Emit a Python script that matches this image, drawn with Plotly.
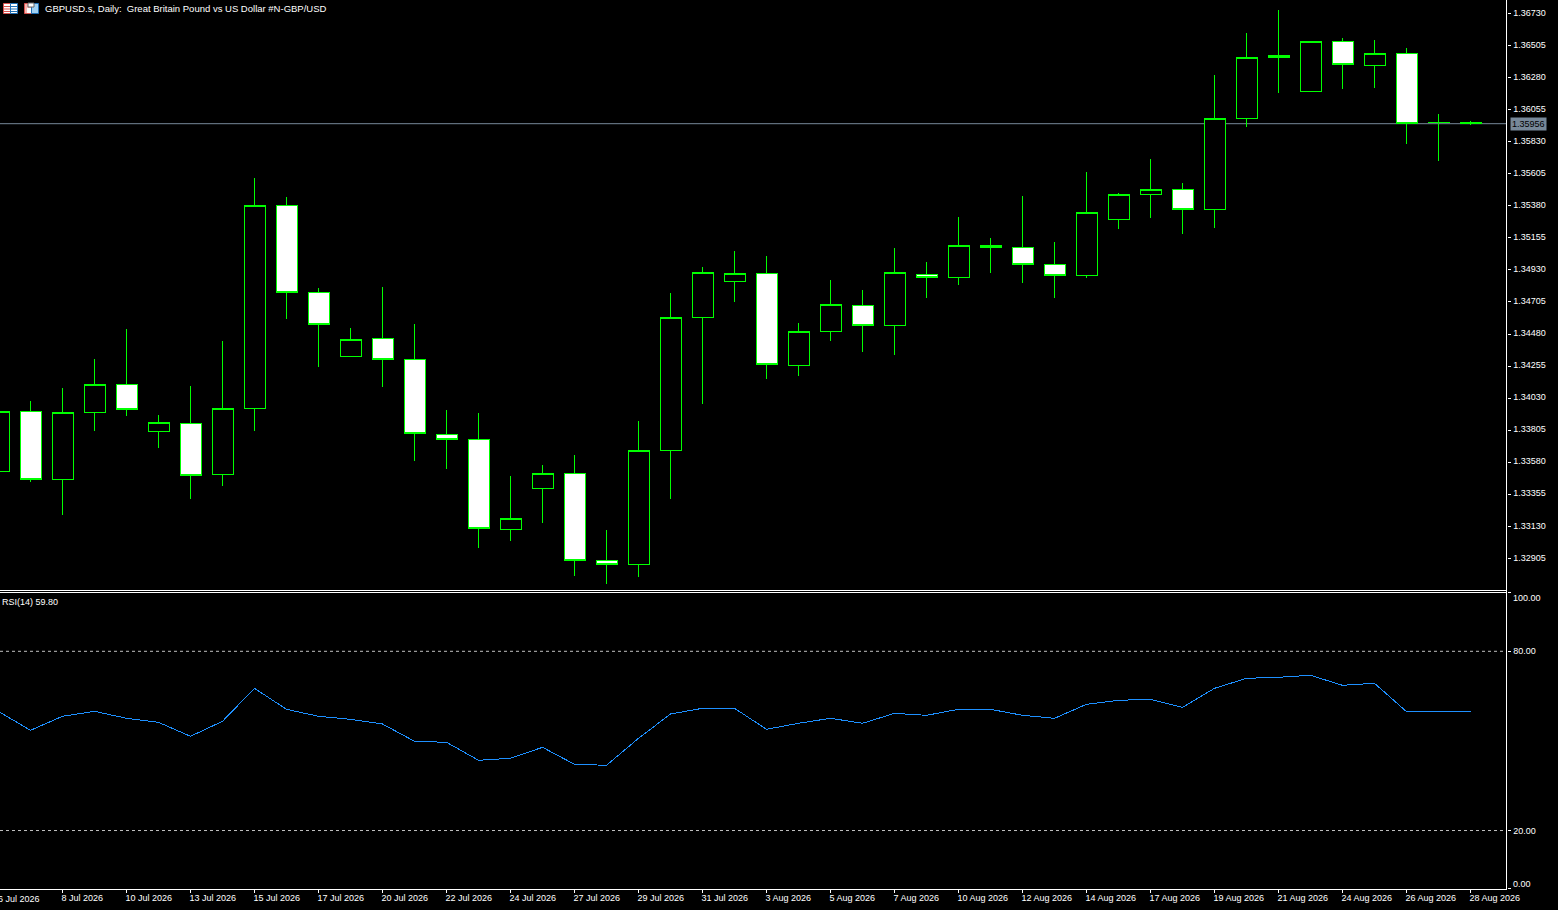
# -*- coding: utf-8 -*-
import plotly.graph_objects as go

#####
# Values
#####

# bar dates, one per candle, first one is cut by the left edge
bar_dates = ['6 Jul', '7 Jul', '8 Jul', '9 Jul', '10 Jul', '12 Jul', '13 Jul', '14 Jul', '15 Jul', '16 Jul',
             '17 Jul', '19 Jul', '20 Jul', '21 Jul', '22 Jul', '23 Jul', '24 Jul', '26 Jul', '27 Jul', '28 Jul',
             '29 Jul', '30 Jul', '31 Jul', '2 Aug', '3 Aug', '4 Aug', '5 Aug', '6 Aug', '7 Aug', '9 Aug',
             '10 Aug', '11 Aug', '12 Aug', '13 Aug', '14 Aug', '16 Aug', '17 Aug', '18 Aug', '19 Aug', '20 Aug',
             '21 Aug', '23 Aug', '24 Aug', '25 Aug', '26 Aug', '27 Aug', '28 Aug']

opens = [1.33514, 1.33938, 1.33461, 1.33931, 1.34127, 1.33797, 1.33854, 1.33496, 1.33959, 1.35383,
         1.34773, 1.34324, 1.34450, 1.34303, 1.33776, 1.33741, 1.33107, 1.33395, 1.33503, 1.32892,
         1.32861, 1.33664, 1.34595, 1.34847, 1.34906, 1.34258, 1.34496, 1.34682, 1.34540, 1.34899,
         1.34875, 1.35103, 1.35089, 1.34969, 1.34889, 1.35282, 1.35458, 1.35496, 1.35354, 1.35994,
         1.36419, 1.36183, 1.36534, 1.36366, 1.36450, 1.35965, 1.35966]
highs = [1.33982, 1.34010, 1.34101, 1.34305, 1.34515, 1.33912, 1.34115, 1.34431, 1.35575, 1.35442,
         1.34803, 1.34522, 1.34810, 1.34550, 1.33947, 1.33926, 1.33484, 1.33561, 1.33631, 1.33105,
         1.33870, 1.34768, 1.34950, 1.35063, 1.35028, 1.34557, 1.34859, 1.34789, 1.35084, 1.34985,
         1.35301, 1.35154, 1.35449, 1.35126, 1.35617, 1.35470, 1.35708, 1.35540, 1.36298, 1.36592,
         1.36754, 1.36534, 1.36557, 1.36543, 1.36487, 1.36024, 1.35975]
lows = [1.33470, 1.33442, 1.33212, 1.33800, 1.33905, 1.33680, 1.33322, 1.33414, 1.33800, 1.34585,
        1.34249, 1.34324, 1.34108, 1.33589, 1.33533, 1.32978, 1.33028, 1.33154, 1.32782, 1.32726,
        1.32775, 1.33322, 1.33989, 1.34705, 1.34164, 1.34185, 1.34431, 1.34354, 1.34333, 1.34733,
        1.34824, 1.34908, 1.34838, 1.34733, 1.34873, 1.35217, 1.35294, 1.35182, 1.35226, 1.35935,
        1.36174, 1.36183, 1.36202, 1.36209, 1.35816, 1.35696, 1.35949]
closes = [1.33938, 1.33461, 1.33931, 1.34127, 1.33952, 1.33861, 1.33489, 1.33959, 1.35383, 1.34773,
          1.34548, 1.34443, 1.34303, 1.33783, 1.33741, 1.33117, 1.33187, 1.33503, 1.32892, 1.32861,
          1.33664, 1.34597, 1.34913, 1.34906, 1.34265, 1.34499, 1.34689, 1.34541, 1.34913, 1.34875,
          1.35103, 1.35086, 1.34966, 1.34889, 1.35334, 1.35461, 1.35496, 1.35352, 1.35994, 1.36422,
          1.36436, 1.36534, 1.36373, 1.36450, 1.35959, 1.35966, 1.35956]

rsi_values = [59.85, 53.55, 58.24, 59.91, 57.57, 56.23, 51.54, 56.57, 67.61, 60.58,
              58.24, 57.23, 55.66, 49.87, 49.54, 43.51, 44.18, 47.86, 42.17, 41.84,
              50.87, 59.01, 60.92, 60.92, 53.89, 55.90, 57.57, 55.90, 59.24, 58.57,
              60.58, 60.58, 58.57, 57.57, 62.26, 63.60, 63.93, 61.25, 67.61, 70.96,
              71.30, 71.97, 68.62, 69.29, 59.80, 59.80, 59.80]

price_ticks = [1.36730, 1.36505, 1.36280, 1.36055, 1.35830, 1.35605, 1.35380, 1.35155, 1.34930,
               1.34705, 1.34480, 1.34255, 1.34030, 1.33805, 1.33580, 1.33355, 1.33130, 1.32905]
rsi_levels = [80, 20]
last_price = 1.35956

time_labels = ['8 Jul 2026', '10 Jul 2026', '13 Jul 2026', '15 Jul 2026', '17 Jul 2026', '20 Jul 2026',
               '22 Jul 2026', '24 Jul 2026', '27 Jul 2026', '29 Jul 2026', '31 Jul 2026', '3 Aug 2026',
               '5 Aug 2026', '7 Aug 2026', '10 Aug 2026', '12 Aug 2026', '14 Aug 2026', '17 Aug 2026',
               '19 Aug 2026', '21 Aug 2026', '24 Aug 2026', '26 Aug 2026', '28 Aug 2026']

title_text = 'GBPUSD.s, Daily:  Great Britain Pound vs US Dollar #N-GBP/USD'
rsi_text = 'RSI(14) 59.80'

#####
# Layout helpers
#####

W, H = 1558, 910
AXIS_X = 1506.5
FONT = 'Liberation Sans'
FONT_SIZE = 9
GREEN = '#00ff00'
WHITE = '#ffffff'


def px(x):
    return x / W


def py(y):
    return 1 - y / H


def rect(x0, y0, x1, y1, fill=None, line=None):
    return dict(type='rect', xref='paper', yref='paper', x0=px(x0), x1=px(x1), y0=py(y0), y1=py(y1),
                fillcolor=fill or 'rgba(0,0,0,0)', line=dict(color=line or 'rgba(0,0,0,0)', width=1 if line else 0),
                layer='above')


def hline(x0, x1, y, color=WHITE):
    return dict(type='line', xref='paper', yref='paper', x0=px(x0), x1=px(x1), y0=py(y), y1=py(y),
                line=dict(color=color, width=1), layer='above')


bars = list(range(len(bar_dates)))
time_ticks = [bar_dates.index(lab.rsplit(' ', 1)[0]) for lab in time_labels]

fig = go.Figure()

fig.add_trace(go.Candlestick(
    x=bars, open=opens, high=highs, low=lows, close=closes,
    xaxis='x', yaxis='y',
    increasing=dict(line=dict(color=GREEN, width=1), fillcolor='#000000'),
    decreasing=dict(line=dict(color=GREEN, width=1), fillcolor=WHITE),
    whiskerwidth=0,
    showlegend=False,
))

fig.add_trace(go.Scatter(
    x=bars, y=rsi_values, mode='lines',
    xaxis='x', yaxis='y2',
    line=dict(color='#1e90ff', width=1),
    showlegend=False,
))

#  Bid line and RSI levels
shapes = [dict(type='line', xref='x domain', yref='y', x0=0, x1=1, y0=last_price, y1=last_price,
               line=dict(color='#778899', width=1), layer='below')]
for level in rsi_levels:
    shapes.append(dict(type='line', xref='x domain', yref='y2', x0=0, x1=1, y0=level, y1=level,
                       line=dict(color='#c0c0c0', width=1, dash='3px,3px'), layer='below'))

#  Panel separators and the price scale line
shapes.append(hline(0, AXIS_X, 590.5))
shapes.append(hline(0, AXIS_X, 592.5))
shapes.append(dict(type='line', xref='paper', yref='paper', x0=px(AXIS_X), x1=px(AXIS_X), y0=py(0), y1=py(889),
                   line=dict(color=WHITE, width=1), layer='above'))

#  Small toolbar icons next to the title
shapes.append(rect(3.5, 3.5, 10.5, 13.5, fill=WHITE, line='#d9534f'))
shapes.append(rect(10.5, 3.5, 17.5, 13.5, fill=WHITE, line='#1f6fb5'))
for y in [6.5, 9, 11.5]:
    shapes.append(hline(4, 10, y, '#d9534f'))
    shapes.append(hline(11, 17, y, '#1f6fb5'))
shapes.append(rect(24.5, 3.5, 31.5, 13.5, fill='#f7b6b0', line='#d9534f'))
shapes.append(rect(31.5, 3.5, 38.5, 13.5, fill='#9fd0f2', line='#1f6fb5'))
shapes.append(rect(28, 3, 34, 7, fill=WHITE, line='#666666'))
shapes.append(rect(27, 8, 31, 13, fill=WHITE))

text_font = dict(family=FONT, size=FONT_SIZE, color=WHITE)

annotations = [
    dict(text=title_text, xref='paper', yref='paper', x=px(43.5), y=py(8.5), xanchor='left', yanchor='middle',
         showarrow=False, font=dict(family=FONT, size=9.5, color=WHITE), borderpad=0),
    dict(text=rsi_text, xref='paper', yref='paper', x=px(0.5), y=py(601.5), xanchor='left', yanchor='middle',
         showarrow=False, font=text_font, borderpad=0),
    #  Last price tag on the scale
    dict(text=f'{last_price:.5f}', xref='paper', yref='y', x=px(1528.5), y=last_price, xanchor='center',
         yanchor='middle', showarrow=False, font=dict(family=FONT, size=FONT_SIZE, color='#000000'),
         bgcolor='#778899', borderpad=1),
    #  End labels of the RSI scale sit inside the panel
    dict(text='100.00', xref='paper', yref='paper', x=px(1512), y=py(597.5), xanchor='left', yanchor='middle',
         showarrow=False, font=text_font, borderpad=0),
    dict(text='0.00', xref='paper', yref='paper', x=px(1512), y=py(883.5), xanchor='left', yanchor='middle',
         showarrow=False, font=text_font, borderpad=0),
    #  First date has its tick off-screen
    dict(text='6 Jul 2026', xref='paper', yref='paper', x=px(-3.5), y=py(898.5), xanchor='left', yanchor='middle',
         showarrow=False, font=text_font, borderpad=0),
]

fig.update_layout(
    width=W, height=H,
    margin=dict(l=0, r=0, t=0, b=0, autoexpand=False),
    paper_bgcolor='#000000',
    plot_bgcolor='#000000',
    font=text_font,
    boxgap=0.344,
    boxgroupgap=0,
    dragmode=False,
    showlegend=False,
    shapes=shapes,
    annotations=annotations,
    xaxis=dict(
        domain=[0, px(AXIS_X)], range=[0.046875, 47.125], anchor='y2', type='linear',
        rangeslider=dict(visible=False),
        showgrid=False, zeroline=False,
        showline=True, linecolor=WHITE, linewidth=1,
        tickmode='array', tickvals=time_ticks, ticktext=time_labels,
        ticks='outside', ticklen=3, tickcolor=WHITE, tickwidth=1,
        ticklabelposition='outside right',
        ticklabelshift=-2,
        tickfont=text_font,
    ),
    yaxis=dict(
        domain=[py(590.5), 1], range=[1.326802, 1.36824], anchor='x', side='right',
        showgrid=False, zeroline=False, showline=False,
        tickmode='array', tickvals=price_ticks, ticktext=[f'{v:.5f}' for v in price_ticks],
        ticks='outside', ticklen=3, tickcolor=WHITE, tickwidth=1,
        ticklabelstandoff=1,
        ticklabelshift=-1,
        tickfont=text_font,
    ),
    yaxis2=dict(
        domain=[py(889), py(592.5)], range=[0.42, 99.69], anchor='x', side='right',
        showgrid=False, zeroline=False, showline=False,
        tickmode='array', tickvals=[99.6] + rsi_levels + [0.5], ticktext=['', '80.00', '20.00', ''],
        ticks='outside', ticklen=3, tickcolor=WHITE, tickwidth=1,
        ticklabelstandoff=1,
        tickfont=text_font,
    ),
)

#  Terminal charts have no anti-aliasing, so keep candle and RSI strokes on whole pixels
post_js = """
document.body.style.margin = '0';
document.body.style.background = '#000';
var gd = document.getElementById('{plot_id}');
function crisp() {
    gd.querySelectorAll('.boxes path, .scatterlayer path.js-line').forEach(function (p) {
        p.style.shapeRendering = 'crispEdges';
    });
}
crisp();
gd.on('plotly_afterplot', crisp);
setTimeout(crisp, 100);
"""

fig.write_html('out.html', config=dict(displayModeBar=False), post_script=post_js)
